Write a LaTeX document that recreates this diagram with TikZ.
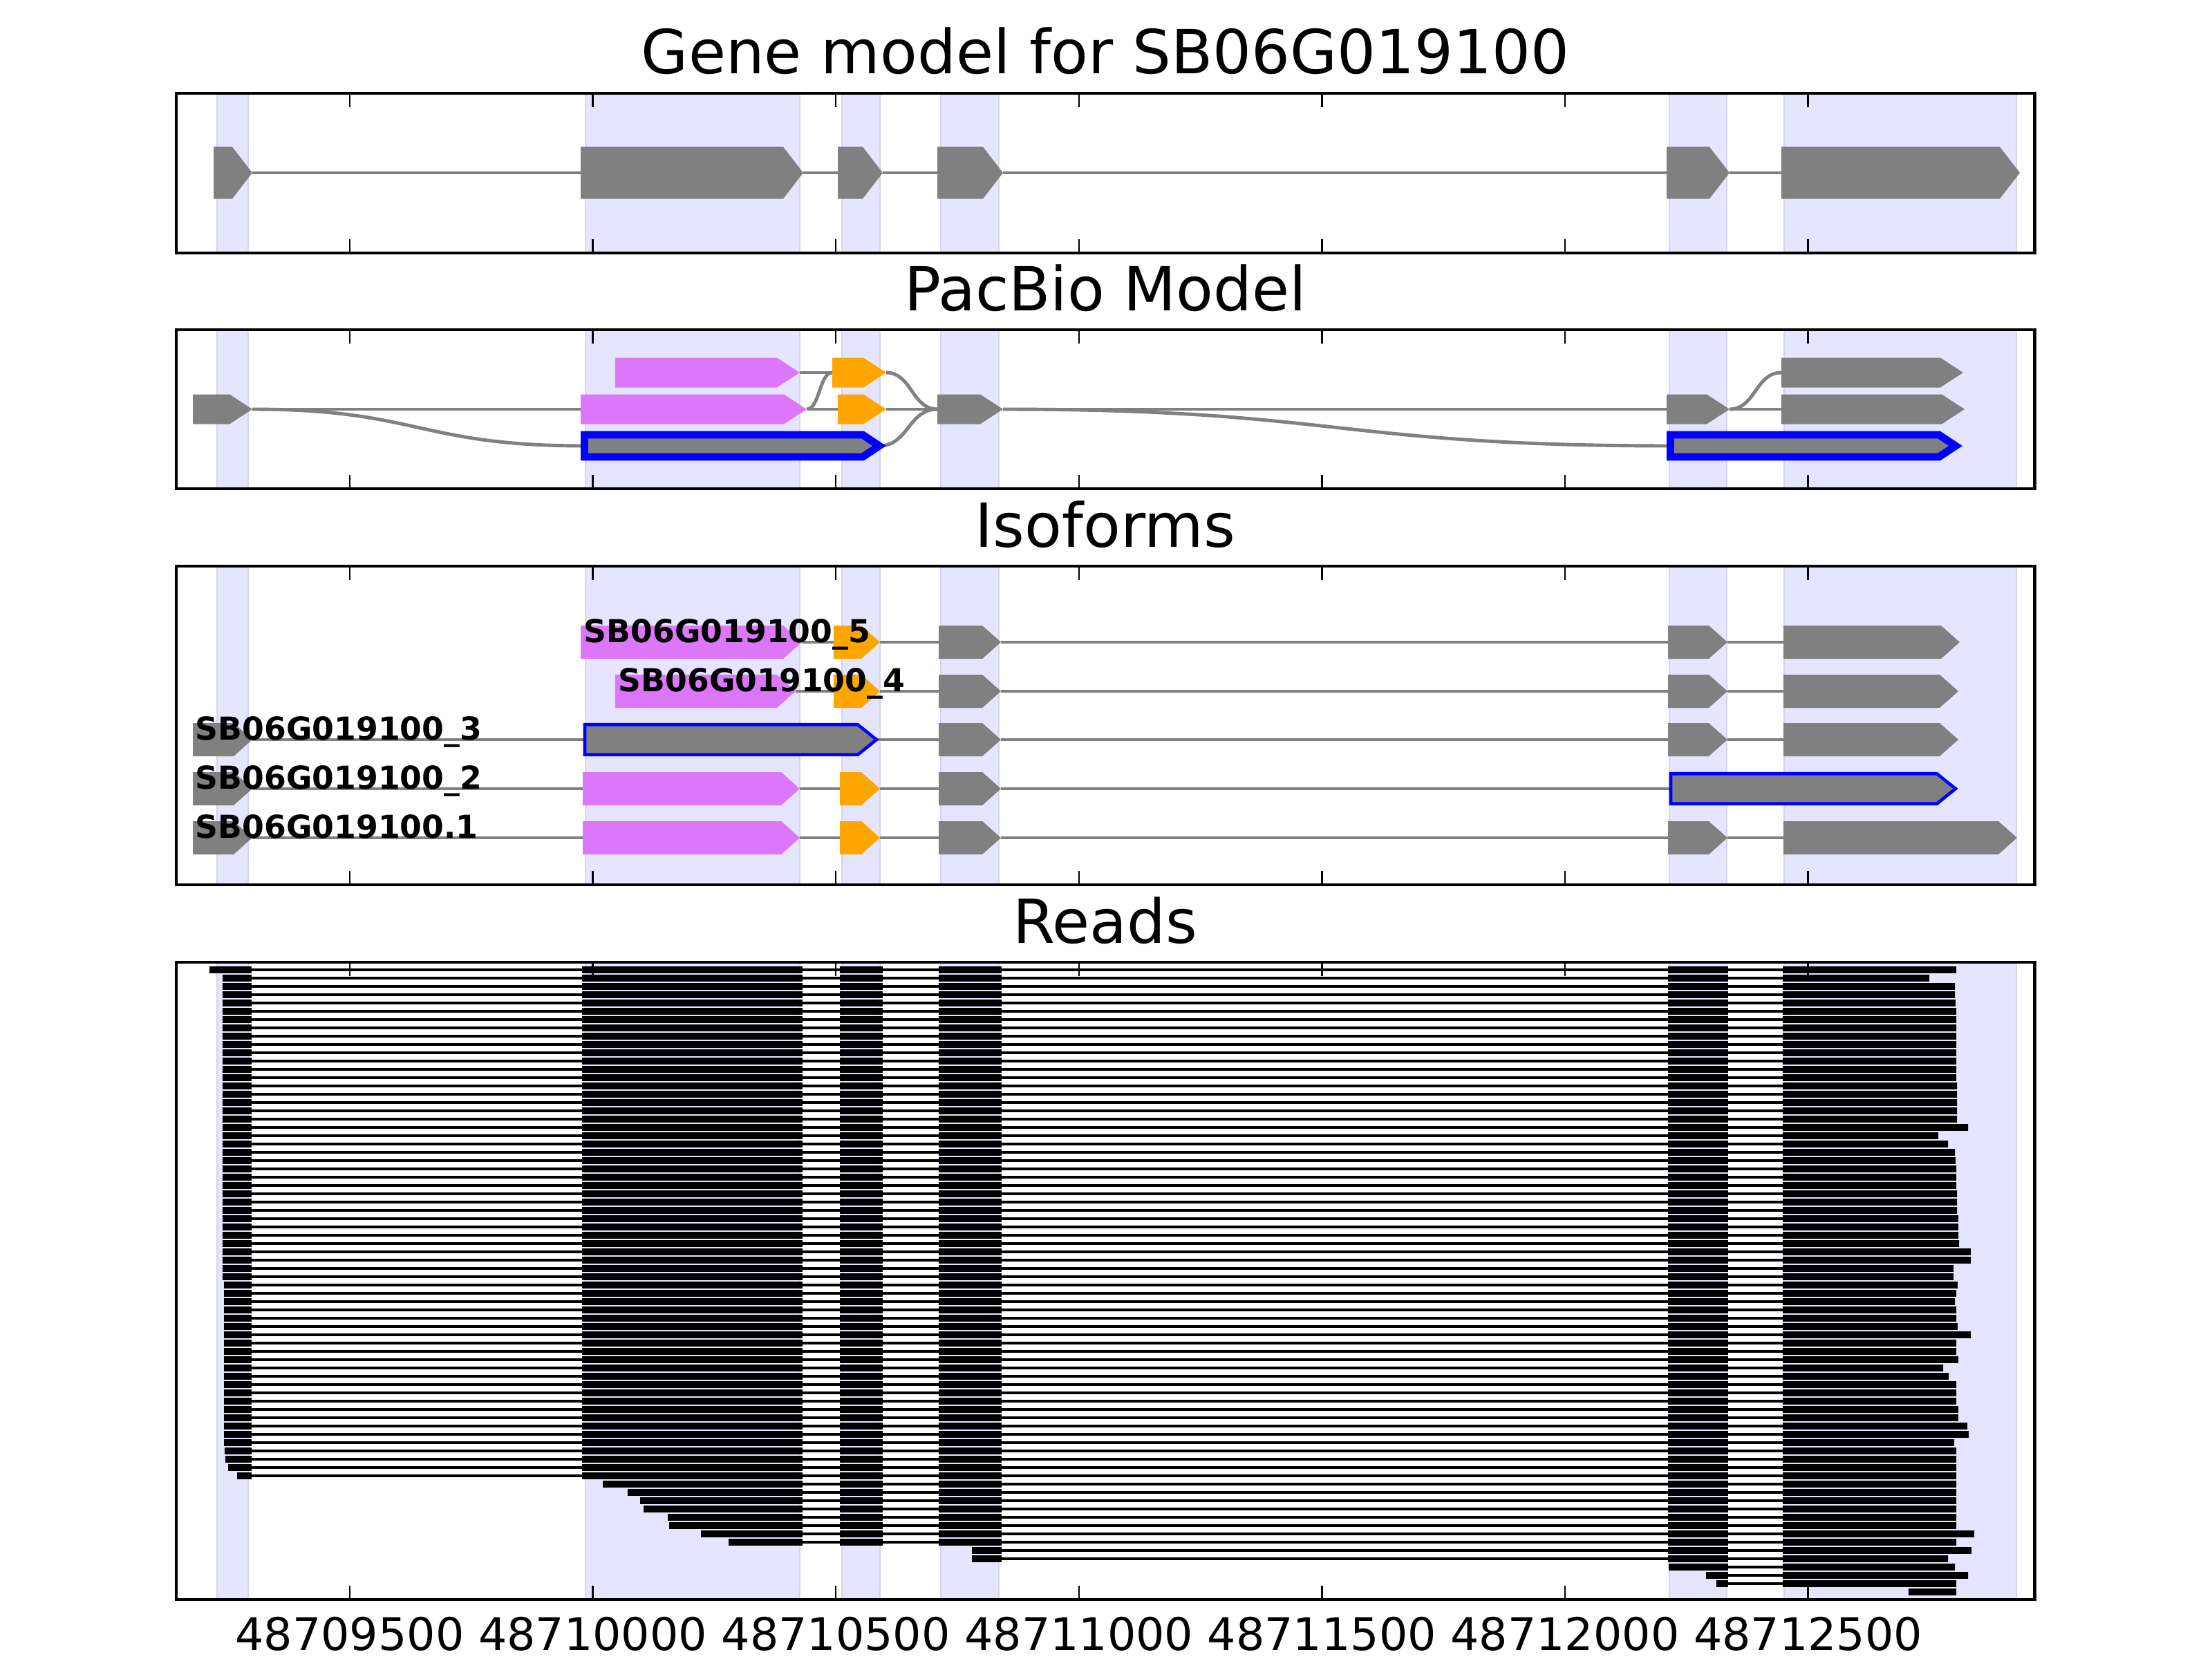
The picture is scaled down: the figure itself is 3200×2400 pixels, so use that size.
\documentclass[tikz,border=0pt]{standalone}
\usepackage{fontspec}
\setmainfont{DejaVu Sans}
\usetikzlibrary{calc}

\definecolor{bandblue}{RGB}{229,229,255}
\definecolor{bandedge}{RGB}{214,214,232}
\definecolor{exgray}{RGB}{128,128,128}
\definecolor{expink}{RGB}{221,119,250}
\definecolor{exorange}{RGB}{255,165,0}

\pgfdeclarelayer{back}
\pgfsetlayers{back,main}

\newcommand{\exh}{37.5}
\newcommand{\ext}{29}
\newcommand{\exon}[5][gene]{%
  \path[#1] (#3,#5-\exh) -- (#4-\ext,#5-\exh) -- (#4,#5) -- (#4-\ext,#5+\exh) -- (#3,#5+\exh) -- cycle;
  \coordinate (#2-w) at (#3,#5);
  \coordinate (#2-e) at (#4,#5);
}
\newcommand{\sig}[2]{%
  \draw[intron] let \p1=(#1), \p2=(#2) in (\p1) .. controls ({(\x1+\x2)/2},\y1) and ({(\x1+\x2)/2},\y2) .. (\p2);
}

\begin{document}
\begin{tikzpicture}[x=0.01cm, y=-0.01cm,
    gene/.style={fill=exgray},
    pink/.style={fill=expink},
    orange/.style={fill=exorange},
    pick/.style={fill=exgray, draw=blue, line join=miter, line width=3.1pt},
    pickthin/.style={fill=exgray, draw=blue, line join=miter, line width=1.3pt},
    intron/.style={draw=exgray, line width=1.4pt},
    band/.style={fill=bandblue, draw=bandedge, line width=0.5pt},
    frame/.style={draw=black, line width=1.4pt},
    tick/.style={draw=black, line width=0.7pt},
    title/.style={anchor=base, inner sep=0pt, font=\fontsize{25}{30}\selectfont},
    ticklabel/.style={anchor=base, inner sep=0pt, font=\fontsize{18.5}{22}\selectfont},
    isolabel/.style={anchor=base west, inner sep=0pt, font=\fontsize{13}{15}\selectfont\bfseries}]
\useasboundingbox (0,0) rectangle (3200,2400);

\begin{pgfonlayer}{back}
\foreach \t/\b in {135/366, 477/707, 819/1280, 1392/2314}
  \foreach \l/\r in {314/359, 847/1157, 1218/1273, 1361/1445, 2415/2498, 2581/2917}
    \path[band] (\l,\t) rectangle (\r,\b);
\end{pgfonlayer}

\node[title] (t1) at (1599,107) {Gene model for SB06G019100};
\node[title] (t2) at (1599,449) {PacBio Model};
\node[title] (t3) at (1599,791) {Isoforms};
\node[title] (t4) at (1599,1364) {Reads};

% gene model
\exon{g1}{309}{365}{250}
\exon{g2}{840}{1162}{250}
\exon{g3}{1212}{1277}{250}
\exon{g4}{1356}{1451}{250}
\exon{g5}{2411}{2502}{250}
\exon{g6}{2577}{2922}{250}
\begin{pgfonlayer}{back}
\draw[intron] (g1-e) -- (g2-w) (g2-e) -- (g3-w) (g3-e) -- (g4-w) (g4-e) -- (g5-w) (g5-e) -- (g6-w);
\end{pgfonlayer}

% pacbio model
\renewcommand{\exh}{21.5}
\renewcommand{\ext}{33}
\exon{pa}{279}{365}{592}
\exon[pink]{pkA}{890}{1157}{539}
\exon[pink]{pkB}{840}{1167}{592}
\exon[orange]{orA}{1204}{1282}{539}
\exon[orange]{orB}{1212}{1282}{592}
\exon{pd}{1356}{1451}{592}
\exon{pe}{2411}{2502}{592}
\exon{pfA}{2577}{2840}{539}
\exon{pfB}{2577}{2842}{592}
\renewcommand{\exh}{16}
\renewcommand{\ext}{24}
\exon[pick]{pbC}{845.5}{1272}{645}
\exon[pick]{pfC}{2416.5}{2829}{645}
\begin{pgfonlayer}{back}
\draw[intron] (pa-e) -- (pkB-w) (pkA-e) -- (orA-w) (pkB-e) -- (orB-w) (orB-e) -- (pd-w)
  (pd-e) -- (pe-w) (pe-e) -- (pfB-w);
\sig{pa-e}{pbC-w}
\sig{pkB-e}{orA-w}
\sig{orA-e}{pd-w}
\sig{pbC-e}{pd-w}
\sig{pd-e}{pfC-w}
\sig{pe-e}{pfA-w}
\end{pgfonlayer}

% isoforms
\renewcommand{\exh}{24}
\renewcommand{\ext}{27}
\exon[pink]{i5a}{840}{1160}{929}
\exon[orange]{i5b}{1206}{1273}{929}
\exon{i5c}{1358}{1448}{929}
\exon{i5d}{2413}{2499}{929}
\exon{i5e}{2580}{2835}{929}
\exon[pink]{i4a}{890}{1151}{1000}
\exon[orange]{i4b}{1206}{1273}{1000}
\exon{i4c}{1358}{1448}{1000}
\exon{i4d}{2413}{2499}{1000}
\exon{i4e}{2580}{2833}{1000}
\exon{i3a}{279}{365}{1070}
\exon{i3c}{1358}{1448}{1070}
\exon{i3d}{2413}{2499}{1070}
\exon{i3e}{2580}{2833}{1070}
\exon{i2a}{279}{365}{1141}
\exon[pink]{i2b}{843}{1157}{1141}
\exon[orange]{i2c}{1215}{1273}{1141}
\exon{i2d}{1358}{1448}{1141}
\exon{i1a}{279}{365}{1212}
\exon[pink]{i1b}{843}{1157}{1212}
\exon[orange]{i1c}{1215}{1273}{1212}
\exon{i1d}{1358}{1448}{1212}
\exon{i1e}{2413}{2499}{1212}
\exon{i1f}{2580}{2918}{1212}
\renewcommand{\exh}{21.75}
\exon[pickthin]{i3b}{846}{1268}{1070}
\exon[pickthin]{i2e}{2417}{2829}{1141}
\begin{pgfonlayer}{back}
\draw[intron] (i5a-e) -- (i5b-w) (i5b-e) -- (i5c-w) (i5c-e) -- (i5d-w) (i5d-e) -- (i5e-w)
  (i4a-e) -- (i4b-w) (i4b-e) -- (i4c-w) (i4c-e) -- (i4d-w) (i4d-e) -- (i4e-w)
  (i3a-e) -- (i3b-w) (i3b-e) -- (i3c-w) (i3c-e) -- (i3d-w) (i3d-e) -- (i3e-w)
  (i2a-e) -- (i2b-w) (i2b-e) -- (i2c-w) (i2c-e) -- (i2d-w) (i2d-e) -- (i2e-w)
  (i1a-e) -- (i1b-w) (i1b-e) -- (i1c-w) (i1c-e) -- (i1d-w) (i1d-e) -- (i1e-w) (i1e-e) -- (i1f-w);
\end{pgfonlayer}
\node[isolabel] (l5) at (844,929) {SB06G019100\_5};
\node[isolabel] (l4) at (894,1000) {SB06G019100\_4};
\node[isolabel] (l3) at (282,1070) {SB06G019100\_3};
\node[isolabel] (l2) at (282,1141) {SB06G019100\_2};
\node[isolabel] (l1) at (282,1212) {SB06G019100.1};

% reads
\foreach \s/\e [count=\k from 0] in {303/2830, 322/2791, 322/2828, 322/2828, 322/2829,
    322/2830, 322/2830, 322/2830, 322/2830, 322/2830, 322/2830, 322/2830, 322/2830, 322/2830,
    322/2831, 322/2831, 322/2831, 322/2831, 322/2831, 322/2847, 322/2804, 322/2818, 322/2828,
    322/2829, 322/2830, 322/2830, 322/2830, 322/2831, 322/2831, 322/2831, 322/2833, 322/2833,
    322/2833, 322/2834, 322/2851, 322/2851, 322/2826, 322/2826, 324/2832, 324/2830, 324/2828,
    324/2830, 324/2830, 324/2832, 324/2851, 324/2830, 324/2830, 324/2833, 324/2811, 324/2819,
    324/2830, 324/2830, 324/2830, 324/2833, 324/2833, 324/2846, 324/2848, 324/2827, 325/2830,
    326/2830, 330/2830, 343/2830, 872/2830, 908/2830, 926/2830, 931/2830, 966/2830, 968/2830,
    1014/2856, 1054/2830, 1406/2852, 1406/2818, 2414/2828, 2468/2847, 2483/2830, 2761/2830} {
  \begin{scope}
    \clip (\s,1397+12*\k) rectangle (\e,1409+12*\k);
    \foreach \a/\b in {0/364, 842/1161, 1215/1277, 1358/1449, 2413/2500, 2579/3000}
      \fill (\a,1398+12*\k) rectangle (\b,1408+12*\k);
    \draw[line width=1.15pt] (\s,1403+12*\k) -- (\e,1403+12*\k);
  \end{scope}
}

% frames and ticks
\foreach \t/\b in {135/366, 477/707, 819/1280, 1392/2314} {
  \draw[frame] (255,\t) rectangle (2943,\b);
  \foreach \i in {0,...,6} {
    \draw[tick] ({506+351.6*\i},\t) -- ++(0,20);
    \draw[tick] ({506+351.6*\i},\b) -- ++(0,-20);
  }
}
\foreach \v [count=\i from 0] in {48709500,48710000,48710500,48711000,48711500,48712000,48712500}
  \node[ticklabel] (x\i) at ({506+351.6*\i},2387) {\v};
\end{tikzpicture}
\end{document}
